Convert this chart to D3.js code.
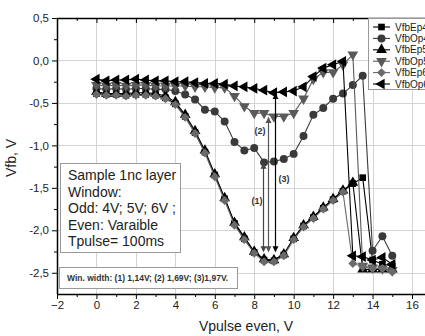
<!DOCTYPE html>
<html>
<head>
<meta charset="utf-8">
<script src="https://cdn.jsdelivr.net/npm/d3@7"></script>
<style>
  body { margin: 0; background: #fff; }
  svg { display: block; font-family: "Liberation Sans", Arial, sans-serif; }
</style>
</head>
<body>
<svg id="chart" width="425" height="336"></svg>
<script>
// Vpulse even, V
const xValues = [0,0.5,1,1.5,2,2.5,3,3.5,4,4.5,5,5.5,6,6.5,7,7.5,8,8.5,9,9.5,10,10.5,11,11.5,12,12.5,13,13.5,14,14.5,15];

// Vfb, V per series
const vfbEp4 = [-0.39,-0.40,-0.40,-0.41,-0.40,-0.40,-0.41,-0.44,-0.51,-0.66,-0.85,-1.08,-1.35,-1.63,-1.92,-2.10,-2.26,-2.35,-2.36,-2.29,-2.10,-1.95,-1.85,-1.74,-1.64,-1.54,-1.45,-1.38,-2.35,-2.40,-2.42];
const vfbOp4 = [-0.33,-0.34,-0.33,-0.34,-0.33,-0.33,-0.34,-0.34,-0.36,-0.40,-0.46,-0.58,-0.60,-0.72,-0.96,-1.06,-1.03,-1.20,-1.19,-1.16,-1.10,-0.89,-0.64,-0.56,-0.45,-0.39,-0.29,-0.18,-2.24,-2.07,-2.30];
const vfbEp5 = [-0.37,-0.39,-0.39,-0.39,-0.38,-0.38,-0.39,-0.42,-0.49,-0.64,-0.83,-1.06,-1.34,-1.62,-1.91,-2.08,-2.25,-2.34,-2.35,-2.28,-2.09,-1.94,-1.84,-1.73,-1.63,-1.53,-1.44,-2.46,-2.46,-2.46,-2.46];
const vfbOp5 = [-0.29,-0.30,-0.29,-0.30,-0.29,-0.29,-0.30,-0.30,-0.30,-0.30,-0.31,-0.31,-0.32,-0.32,-0.42,-0.54,-0.62,-0.62,-0.66,-0.66,-0.62,-0.45,-0.22,-0.14,-0.14,-0.05,0.07,-2.42,-2.44,-2.45,-2.47];
const vfbEp6 = [-0.40,-0.41,-0.41,-0.42,-0.41,-0.41,-0.42,-0.45,-0.52,-0.67,-0.86,-1.09,-1.37,-1.65,-1.94,-2.11,-2.27,-2.37,-2.37,-2.30,-2.11,-1.96,-1.86,-1.75,-1.65,-1.55,-2.39,-2.43,-2.45,-2.45,-2.49];
const vfbOp6 = [-0.22,-0.24,-0.23,-0.23,-0.22,-0.23,-0.24,-0.24,-0.25,-0.25,-0.26,-0.27,-0.27,-0.28,-0.30,-0.31,-0.33,-0.35,-0.38,-0.37,-0.36,-0.31,-0.19,-0.09,-0.05,-0.01,-2.30,-2.31,-2.35,-2.32,-2.40];

const seriesNames = ["VfbEp4","VfbOp4","VfbEp5","VfbOp5","VfbEp6","VfbOp6"];
const seriesValues = [vfbEp4, vfbOp4, vfbEp5, vfbOp5, vfbEp6, vfbOp6];

const xTicks = [-2,0,2,4,6,8,10,12,14,16];
const xMinorTicks = [-1,1,3,5,7,9,11,13,15];
const yTicks = [0.5,0,-0.5,-1,-1.5,-2,-2.5];
const yMinorTicks = [0.25,-0.25,-0.75,-1.25,-1.75,-2.25];

// window width arrows: x, top, bottom
const arrowLabels = ["(1)","(2)","(3)"];
const arrowX = [8.45, 8.72, 9.05];
const arrowTop = [-1.20, -0.66, -0.38];
const arrowBottom = [-2.25, -2.25, -2.25];

const infoLines = ["Sample 1nc layer","Window:","Odd: 4V; 5V; 6V ;","Even: Varaible","Tpulse= 100ms"];
const widthNote = "Win. width: (1) 1,14V; (2) 1,69V; (3)1,97V.";

const svg = d3.select("#chart");
const plotLeft = 57, plotTop = 18, plotBottom = 294, plotRight = 432;

const x = d3.scaleLinear().domain([-2, 16]).range([57, 412]);
const y = d3.scaleLinear().domain([-2.75, 0.5]).range([plotBottom, plotTop]);

const styles = [
  { color: "#000", sym: d3.symbolSquare, size: 44, rot: 0 },
  { color: "#3a3a3a", sym: d3.symbolCircle, size: 50, rot: 0 },
  { color: "#000", sym: d3.symbolTriangle, size: 50, rot: 0 },
  { color: "#5a5a5a", sym: d3.symbolTriangle, size: 50, rot: 180 },
  { color: "#6a6a6a", sym: d3.symbolSquare, size: 40, rot: 45 },
  { color: "#000", sym: d3.symbolTriangle, size: 50, rot: -90 }
];

const fmt = d3.formatLocale({ decimal: ",", thousands: ".", grouping: [3], currency: ["", ""], minus: "-" }).format(".1f");

// grid
const grid = svg.append("g").attr("stroke", "#d4d4d4").attr("stroke-width", 1);
grid.selectAll(".gx").data(xTicks.filter(d => d > -2)).join("line")
  .attr("x1", d => Math.round(x(d)) + 0.5).attr("x2", d => Math.round(x(d)) + 0.5)
  .attr("y1", plotTop).attr("y2", plotBottom);
grid.selectAll(".gy").data(yTicks.filter(d => d < 0.5)).join("line")
  .attr("y1", d => Math.round(y(d)) + 0.5).attr("y2", d => Math.round(y(d)) + 0.5)
  .attr("x1", plotLeft).attr("x2", plotRight);

// axes
const axisFont = g => g.selectAll("text").attr("font-size", 11.5).attr("fill", "#222").attr("font-family", "Liberation Sans, Arial, sans-serif");

const gBottom = svg.append("g").attr("transform", `translate(0,${plotBottom})`)
  .call(d3.axisBottom(x).tickValues(xTicks).tickSize(5).tickPadding(2).tickFormat(d3.format("d")))
  .call(axisFont);
gBottom.select(".domain").attr("d", `M${plotLeft},0.5H${plotRight}`).attr("stroke-width", 1.5);
svg.append("g").attr("transform", `translate(0,${plotBottom})`)
  .call(d3.axisBottom(x).tickValues(xMinorTicks).tickSize(3).tickFormat(""))
  .select(".domain").remove();

const gTop = svg.append("g").attr("transform", `translate(0,${plotTop})`)
  .call(d3.axisTop(x).tickValues(xTicks).tickSize(-5).tickFormat(""));
gTop.select(".domain").attr("d", `M${plotLeft},0.5H${plotRight}`).attr("stroke-width", 1.5);
svg.append("g").attr("transform", `translate(0,${plotTop})`)
  .call(d3.axisTop(x).tickValues(xMinorTicks).tickSize(-3).tickFormat(""))
  .select(".domain").remove();

const gLeft = svg.append("g").attr("transform", `translate(${plotLeft},0)`)
  .call(d3.axisLeft(y).tickValues(yTicks).tickSize(5).tickPadding(3).tickFormat(fmt))
  .call(axisFont);
gLeft.select(".domain").attr("d", `M0.5,${plotTop}V${plotBottom}`).attr("stroke-width", 1.5);
svg.append("g").attr("transform", `translate(${plotLeft},0)`)
  .call(d3.axisLeft(y).tickValues(yMinorTicks).tickSize(3).tickFormat(""))
  .select(".domain").remove();

// axis titles
svg.append("text").attr("x", 246).attr("y", 331).attr("text-anchor", "middle")
  .attr("font-size", 14).attr("fill", "#222").text("Vpulse even, V");
svg.append("text").attr("transform", "translate(16,158) rotate(-90)").attr("text-anchor", "middle")
  .attr("font-size", 14).attr("fill", "#222").text("Vfb, V");

// series
const line = d3.line().x((d, i) => x(xValues[i])).y(d => y(d));
seriesValues.forEach((vals, k) => {
  const st = styles[k];
  const g = svg.append("g");
  g.append("path").datum(vals).attr("d", line)
    .attr("fill", "none").attr("stroke", st.color).attr("stroke-width", 1.1);
  g.selectAll("path.pt").data(vals).join("path").attr("class", "pt")
    .attr("d", d3.symbol().type(st.sym).size(st.size))
    .attr("transform", (d, i) => `translate(${x(xValues[i])},${y(d)}) rotate(${st.rot})`)
    .attr("fill", st.color);
});

// arrows
const arrowColors = ["#444", "#555", "#000"];
const defs = svg.append("defs");
arrowColors.forEach((c, i) => {
  defs.append("marker").attr("id", "ah" + i).attr("viewBox", "0 0 10 10").attr("refX", 9).attr("refY", 5)
    .attr("markerWidth", 6).attr("markerHeight", 7).attr("markerUnits", "userSpaceOnUse")
    .attr("orient", "auto-start-reverse")
    .append("path").attr("d", "M0,0L10,5L0,10z").attr("fill", c);
});
arrowX.forEach((ax, i) => {
  const px = Math.round(x(ax)) + 0.5;
  svg.append("line").attr("x1", px).attr("x2", px)
    .attr("y1", y(arrowTop[i]) + 1).attr("y2", y(arrowBottom[i]))
    .attr("stroke", arrowColors[i]).attr("stroke-width", 1.2)
    .attr("marker-start", `url(#ah${i})`).attr("marker-end", `url(#ah${i})`);
});
const labelPos = [[257, 204], [260, 134], [284, 182]];
arrowLabels.forEach((t, i) => {
  svg.append("text").attr("x", labelPos[i][0]).attr("y", labelPos[i][1]).attr("text-anchor", "middle")
    .attr("font-size", 9).attr("font-weight", "bold").attr("fill", "#333").text(t);
});

// info box
svg.append("rect").attr("x", 60.5).attr("y", 163.5).attr("width", 120).attr("height", 89)
  .attr("fill", "#fff").attr("stroke", "#999");
infoLines.forEach((t, i) => {
  svg.append("text").attr("x", 68).attr("y", 180 + i * 16.6)
    .attr("font-size", 14).attr("fill", "#222").text(t);
});

// window width note
svg.append("rect").attr("x", 59.5).attr("y", 267.5).attr("width", 178).attr("height", 21)
  .attr("fill", "#fff").attr("stroke", "#999");
svg.append("text").attr("x", 67).attr("y", 281)
  .attr("font-size", 8.5).attr("font-weight", "bold").attr("fill", "#333").text(widthNote);

// legend
const lg = svg.append("g");
lg.append("rect").attr("x", 368.5).attr("y", 18.5).attr("width", 70).attr("height", 71)
  .attr("fill", "#fff").attr("stroke", "#999");
seriesNames.forEach((name, k) => {
  const st = styles[k];
  const ly = 27 + k * 11.4;
  lg.append("line").attr("x1", 373).attr("x2", 390).attr("y1", ly).attr("y2", ly)
    .attr("stroke", st.color).attr("stroke-width", 1.1);
  lg.append("path").attr("d", d3.symbol().type(st.sym).size(st.size))
    .attr("transform", `translate(381.5,${ly}) rotate(${st.rot})`).attr("fill", st.color);
  lg.append("text").attr("x", 395).attr("y", ly + 3.5).attr("font-size", 10).attr("fill", "#222").text(name);
});
</script>
</body>
</html>
